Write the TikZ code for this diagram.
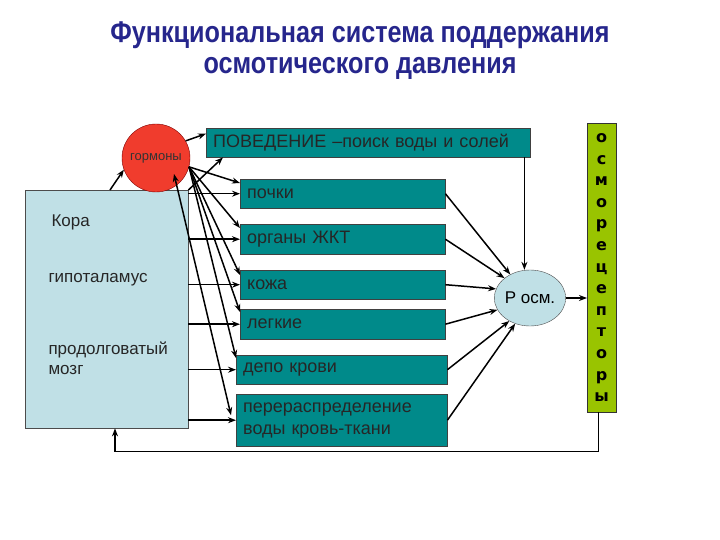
\documentclass[tikz,border=0pt]{standalone}
\usepackage{fontspec}
\setmainfont{Liberation Sans}
\newfontfamily\heavyfont{DejaVu Sans}
\usepackage{graphicx}
\definecolor{TitleColor}{RGB}{38,38,140}
\definecolor{OrganColor}{RGB}{0,138,138}
\definecolor{BrainColor}{RGB}{192,224,230}
\definecolor{HormoneColor}{RGB}{240,60,45}
\definecolor{ReceptorColor}{RGB}{153,196,0}
\usetikzlibrary{positioning, arrows.meta, shapes.geometric}
\tikzstyle{arrow} = [line width=1.5pt, black, ->, >={Stealth[length=8pt,width=6pt]}]
\tikzset{
  organ/.style={rectangle, draw=black!75, fill=OrganColor, anchor=north west, minimum height=#1, inner xsep=7pt, text width=191pt, align=left, font=\fontsize{18}{22}\selectfont, text=black!85},
  brain/.style={rectangle, draw=black!70, fill=BrainColor, anchor=north west, minimum width=163pt, minimum height=238pt},
  brain label/.style={anchor=west, align=left, font=\fontsize{17}{20}\selectfont, text=black!85},
  hormone/.style={circle, draw=red!50!black, fill=HormoneColor, minimum size=68pt, inner sep=0pt, font=\fontsize{13}{13}\selectfont, text=black!80},
  posm/.style={ellipse, draw=black!70, fill=BrainColor, minimum width=68pt, minimum height=56pt, inner sep=0pt, font=\fontsize{17}{17}\selectfont},
  receptor/.style={rectangle, draw=black!80, fill=ReceptorColor, anchor=north west, minimum width=29pt, minimum height=289pt},
  receptor letter/.style={font=\heavyfont\fontsize{16}{16}\selectfont\bfseries, text=black, text height=9pt, text depth=0pt, inner sep=0pt},
  titletext/.style={font=\fontsize{30}{30}\selectfont\bfseries, text=TitleColor, inner sep=0pt}
}

\begin{document}
\begin{tikzpicture}[x=1pt, y=-1pt]
  \useasboundingbox (0,0) rectangle (720,540);

  % Title
  \node[titletext] (title1) at (360,35) {\scalebox{0.84}[1]{Функциональная система поддержания}};
  \node[titletext] (title2) at (360,68) {\scalebox{0.84}[1]{осмотического давления}};

  % Brain block
  \node[brain] (cortex) at (25,190) {};
  \node[brain label] (kora) at (48,222) {Кора};
  \node[brain label] (hypo) at (45,280) {гипоталамус};
  \node[brain label] (medulla) at (45,358) {продолговатый\\мозг};

  % Hormones
  \node[hormone] (horm) at (156,158) {гормоны};

  % Effectors
  \node[organ=29pt, text width=310pt] (behav) at (206,128) {ПОВЕДЕНИЕ –поиск воды и солей};
  \node[organ=29pt] (pochki) at (240,179) {почки};
  \node[organ=30pt] (zkt) at (240,224) {органы ЖКТ};
  \node[organ=29pt] (kozha) at (240,270) {кожа};
  \node[organ=30pt] (legkie) at (240,309) {легкие};
  \node[organ=29pt, text width=197pt] (depo) at (236,355) {депо крови};
  \node[organ=52pt, text width=197pt] (perer) at (236,394) {перераспределение\\воды кровь-ткани};

  % Osmotic pressure
  \node[posm] (posm) at (530,298) {P осм.};

  % Osmoreceptors
  \node[receptor] (recep) at (587,123) {};
  \foreach \ch [count=\i from 0] in {о,с,м,о,р,е,ц,е,п,т,о,р,ы}
    \node[receptor letter] (r\i) at (601.5,{138+21.6*\i}) {\ch};

  % Brain -> hormones -> effectors
  \draw[arrow] ([xshift=85pt]cortex.north west) -- (horm.200);
  \draw[arrow] (horm.30) -- ([yshift=9pt]behav.west);
  \coordinate (hfan) at (horm.-15);
  \foreach \o/\dy in {pochki/-4pt, zkt/-4pt, kozha/-5pt, legkie/-3pt, depo/-3pt}
    \draw[arrow] (hfan) -- ([yshift=\dy]\o.north west);
  \draw[arrow, <->] ([xshift=18pt,yshift=-16pt]horm.center) -- ([xshift=-5pt,yshift=5pt]perer.west);

  % Brain -> effectors
  \draw[arrow] (cortex.north east) -- ([xshift=17pt]behav.south west);
  \foreach \o in {pochki, zkt, kozha, legkie, depo, perer}
    \draw[arrow] (cortex.east |- \o.west) -- (\o.west);

  % Effectors -> P osm
  \foreach \o/\a in {pochki/130, zkt/142, kozha/165, legkie/200, depo/228, perer/240}
    \draw[arrow] (\o.east) -- (posm.\a);
  \coordinate (bdrop) at ([xshift=-6pt]behav.south east);
  \draw[arrow] (bdrop) -- (bdrop |- posm.north);

  % P osm -> receptors -> back to brain
  \draw[arrow] (posm.east) -- (recep.west |- posm.east);
  \draw[arrow] ([xshift=-3pt]recep.south) -- ++(0,39) -| ([xshift=90pt]cortex.south west);
\end{tikzpicture}
\end{document}
